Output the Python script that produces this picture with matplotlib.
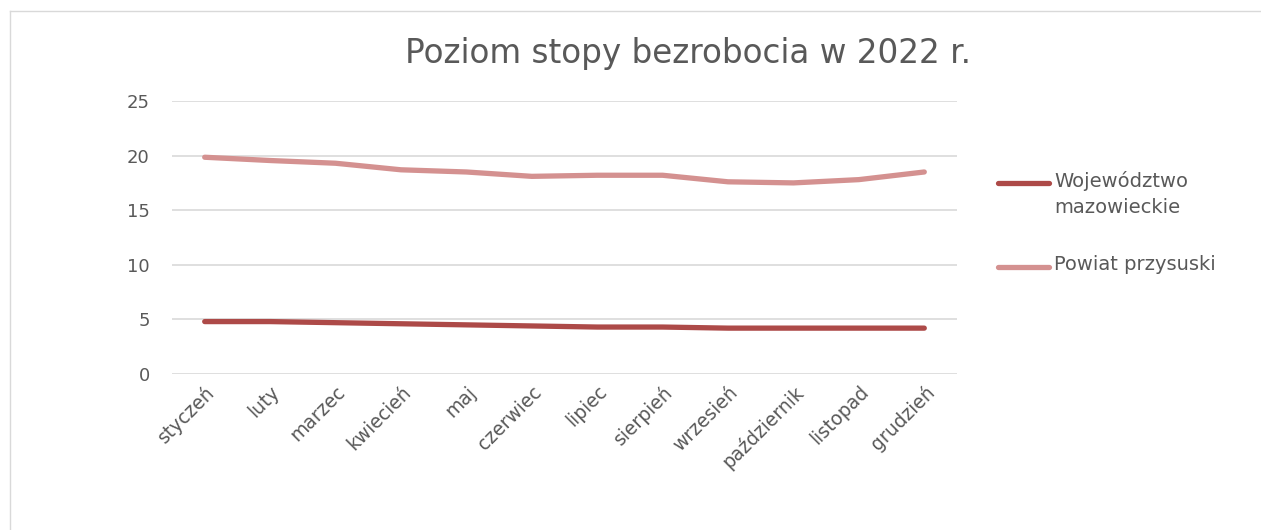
import matplotlib
matplotlib.use("Agg")
import matplotlib.pyplot as plt
from matplotlib.lines import Line2D

months = ["styczeń", "luty", "marzec", "kwiecień", "maj", "czerwiec", "lipiec",
          "sierpień", "wrzesień", "październik", "listopad", "grudzień"]
woj = [4.8, 4.8, 4.7, 4.6, 4.5, 4.4, 4.3, 4.3, 4.2, 4.2, 4.2, 4.2]
powiat = [19.85, 19.55, 19.3, 18.7, 18.5, 18.1, 18.2, 18.2, 17.6, 17.5, 17.8, 18.5]
yticks = [0, 5, 10, 15, 20, 25]
series_names = ["Województwo\nmazowieckie", "Powiat przysuski"]
colors = ['#AD4A48', '#D49190']

plt.rcParams['font.family'] = ['DejaVu Sans']
gray = '#595959'

fig = plt.figure(figsize=(12.61, 5.30), dpi=100)
# chart-area border (only top and left edges visible in the crop)
bx, by = 9.5 / 1261, 1 - 10.5 / 530
fig.lines.append(Line2D([bx, 1.0], [by, by], transform=fig.transFigure, color='#d9d9d9', linewidth=1))
fig.lines.append(Line2D([bx, bx], [0.0, by], transform=fig.transFigure, color='#d9d9d9', linewidth=1))

ax = fig.add_axes([172/1261, 1 - 374/530, (957-172)/1261, (374-101)/530])
x = list(range(len(months)))
ax.plot(x, woj, color=colors[0], linewidth=3.8, solid_capstyle='round')
ax.plot(x, powiat, color=colors[1], linewidth=3.8, solid_capstyle='round')
ax.set_xlim(-0.5, 11.5)
ax.set_ylim(0, 25)
ax.set_yticks(yticks)
ax.set_yticklabels([str(v) for v in yticks], fontsize=13, color=gray)
ax.set_xticks(x)
ax.set_xticklabels(months, rotation=45, ha='right', rotation_mode='anchor', fontsize=13.5, color=gray)
ax.tick_params(axis='both', length=0)
ax.tick_params(axis='y', pad=16)
ax.tick_params(axis='x', pad=6)
ax.grid(axis='y', color='#d9d9d9', linewidth=1.2)
ax.set_axisbelow(True)
for s in ax.spines.values():
    s.set_visible(False)
fig.text(688/1261, 1 - 53/530, "Poziom stopy bezrobocia w 2022 r.", ha='center', va='center',
         fontsize=23.5, color=gray)

# legend drawn manually
leg_y = [183, 267]
for name, c, yy in zip(series_names, colors, leg_y):
    fy = 1 - yy / 530
    fig.lines.append(Line2D([998/1261, 1049/1261], [fy, fy], transform=fig.transFigure,
                            color=c, linewidth=3.8, solid_capstyle='round'))
    fig.text(1054/1261, 1 - (yy - 12) / 530, name, ha='left', va='top', fontsize=14,
             color=gray, linespacing=1.45)
plt.savefig("out.png", dpi=100)
